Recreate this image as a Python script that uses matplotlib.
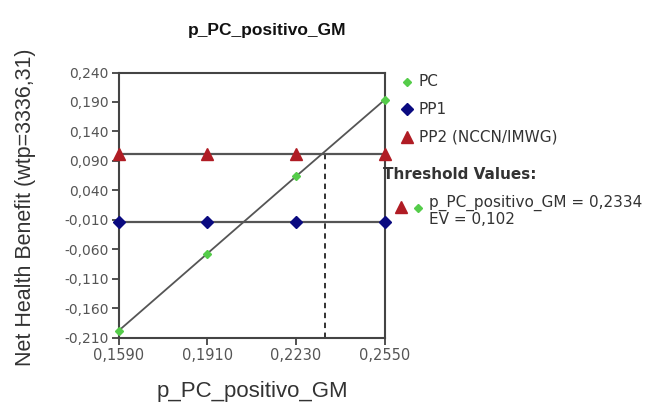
import matplotlib
matplotlib.use("Agg")
import matplotlib.pyplot as plt
from matplotlib.lines import Line2D

plt.rcParams['font.family'] = ['Liberation Sans', 'DejaVu Sans']

x_vals = [0.1590, 0.1910, 0.2230, 0.2550]
pc_vals = [-0.198, -0.067, 0.064, 0.194]
pp1_vals = [-0.014, -0.014, -0.014, -0.014]
pp2_vals = [0.102, 0.102, 0.102, 0.102]
threshold_x = 0.2334
threshold_ev = 0.102
y_ticks = [-0.210, -0.160, -0.110, -0.060, -0.010, 0.040, 0.090, 0.140, 0.190, 0.240]
series_names = ["PC", "PP1", "PP2 (NCCN/IMWG)"]

fig = plt.figure(figsize=(6.59, 4.12), dpi=100)
ax = fig.add_axes([0.18, 0.18, 0.404, 0.644])

line_col = '#555555'
c_pc = '#55cc4a'
c_pp1 = '#0a0a80'
c_pp2 = '#b01c24'

ax.plot(x_vals, pc_vals, color=line_col, lw=1.3, zorder=2)
ax.plot(x_vals, pp1_vals, color=line_col, lw=1.6, zorder=2)
ax.plot(x_vals, pp2_vals, color=line_col, lw=1.6, zorder=2)
ax.plot(x_vals, pc_vals, ls='none', marker='D', ms=4.5, color=c_pc, zorder=3, clip_on=False)
ax.plot(x_vals, pp1_vals, ls='none', marker='D', ms=6.5, color=c_pp1, zorder=3, clip_on=False)
ax.plot(x_vals, pp2_vals, ls='none', marker='^', ms=9, color=c_pp2, zorder=3, clip_on=False)

ax.plot([threshold_x, threshold_x], [y_ticks[0], threshold_ev], color='#222222',
        lw=1.3, ls=(0, (3, 2.5)), zorder=1)

ax.set_xlim(x_vals[0], x_vals[-1])
ax.set_ylim(y_ticks[0], y_ticks[-1])
ax.set_xticks(x_vals)
ax.set_xticklabels([f"{v:.4f}".replace('.', ',') for v in x_vals],
                   family='DejaVu Sans', fontsize=10.5)
ax.set_yticks(y_ticks)
ax.set_yticklabels([f"{v:.3f}".replace('.', ',') for v in y_ticks],
                   family='DejaVu Sans', fontsize=10)
ax.tick_params(direction='out', length=5, width=1.2, colors='#333333',
               labelcolor='#555555', pad=2)
for s in ax.spines.values():
    s.set_color('#444444')
    s.set_linewidth(1.5)

fig.text(0.406, 0.925, "p_PC_positivo_GM", ha='center', va='center',
         fontsize=12.5, fontweight='bold', color='#111111')
fig.text(0.383, 0.049, "p_PC_positivo_GM", ha='center', va='center',
         fontsize=16, color='#333333')
fig.text(0.038, 0.498, "Net Health Benefit (wtp=3336,31)", ha='center', va='center',
         rotation=90, fontsize=15.5, color='#333333')

# legend
W, H = 659, 412
def fx(px):
    return px / W
def fy(py):
    return 1 - py / H

leg_rows = [(82, 'D', 4.5, c_pc), (109, 'D', 6.5, c_pp1), (137, '^', 8, c_pp2)]
for (py, m, ms, c), name in zip(leg_rows, series_names):
    fig.add_artist(Line2D([fx(407)], [fy(py)], marker=m, ms=ms, color=c, ls='none',
                          transform=fig.transFigure))
    fig.text(fx(419), fy(py), name, ha='left', va='center', fontsize=11,
             family='DejaVu Sans', color='#333333')

fig.text(fx(383), fy(175), "Threshold Values:", ha='left', va='center', fontsize=11,
         family='DejaVu Sans', fontweight='bold', color='#333333')
fig.add_artist(Line2D([fx(401)], [fy(207)], marker='^', ms=8, color=c_pp2, ls='none',
                      transform=fig.transFigure))
fig.add_artist(Line2D([fx(418)], [fy(208)], marker='D', ms=4.5, color=c_pc, ls='none',
                      transform=fig.transFigure))
fig.text(fx(429), fy(203), f"p_PC_positivo_GM = {threshold_x:.4f}".replace('.', ','),
         ha='left', va='center', fontsize=11, family='DejaVu Sans', color='#333333')
fig.text(fx(429), fy(219), f"EV = {threshold_ev:.3f}".replace('.', ','),
         ha='left', va='center', fontsize=11, family='DejaVu Sans', color='#333333')

fig.savefig("out.png", dpi=100)
